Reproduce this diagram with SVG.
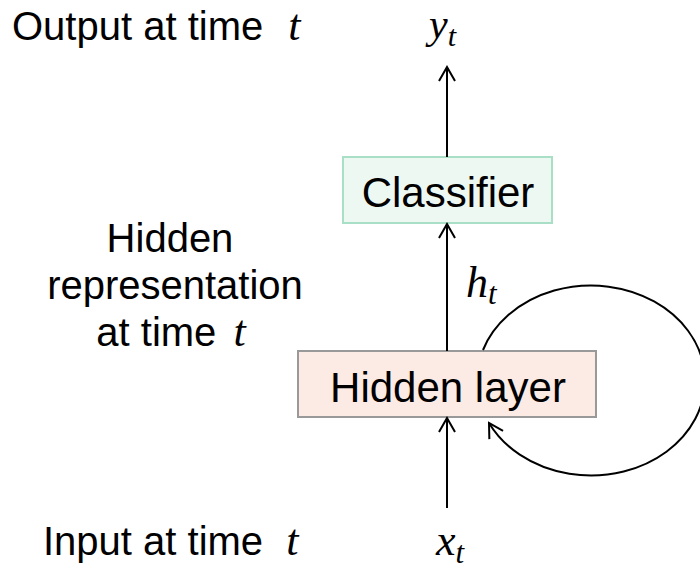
<svg xmlns="http://www.w3.org/2000/svg" width="700" height="571" viewBox="0 0 700 571">
  <style>
    .lbl { font-family: "Liberation Sans", Arial, sans-serif; font-size: 40px; fill: #000; }
    .box { font-family: "Liberation Sans", Arial, sans-serif; font-size: 42px; fill: #000; text-anchor: middle; }
    .m { font-family: "Liberation Serif", "Times New Roman", serif; font-style: italic; }
    .conn { fill: none; stroke: #000; stroke-width: 2; }
  </style>
  <defs>
    <marker id="arr" viewBox="0 0 20 20" refX="18" refY="10" markerWidth="20" markerHeight="20" markerUnits="userSpaceOnUse" orient="auto">
      <path d="M4,2 L18,10 L4,18" fill="none" stroke="#000" stroke-width="2"/>
    </marker>
  </defs>

  <rect width="700" height="571" fill="#fff"/>

  <g id="labels">
    <text class="lbl" x="12" y="40">Output at time <tspan class="m" font-size="44" dx="14">t</tspan></text>
    <text class="lbl" text-anchor="middle" x="170" y="252">Hidden</text>
    <text class="lbl" text-anchor="middle" x="175" y="299">representation</text>
    <text class="lbl" text-anchor="middle" x="171" y="346">at time <tspan class="m" font-size="44" dx="6">t</tspan></text>
    <text class="lbl" x="43" y="555">Input at time <tspan class="m" font-size="44" dx="12">t</tspan></text>
  </g>

  <g id="y_t">
    <text class="m" font-size="42" x="429" y="38">y<tspan font-size="30" dy="8">t</tspan></text>
  </g>
  <g id="h_t">
    <text class="m" font-size="44" x="466" y="297">h<tspan font-size="31" dy="7">t</tspan></text>
  </g>
  <g id="x_t">
    <text class="m" font-size="44" x="436" y="555">x<tspan font-size="31" dy="8">t</tspan></text>
  </g>

  <g id="classifier">
    <rect x="343" y="157" width="209" height="66" fill="#EEF8F2" stroke="#A9DFC7" stroke-width="2"/>
    <text class="box" x="448" y="207">Classifier</text>
  </g>

  <g id="hidden">
    <rect x="298" y="351" width="298" height="66" fill="#FCEBE5" stroke="#999" stroke-width="2"/>
    <text class="box" x="448" y="402">Hidden layer</text>
  </g>

  <g id="connectors">
    <line class="conn" x1="447" y1="508" x2="447" y2="418" marker-end="url(#arr)"/>
    <line class="conn" x1="447" y1="351" x2="447" y2="224" marker-end="url(#arr)"/>
    <line class="conn" x1="447" y1="157" x2="447" y2="67" marker-end="url(#arr)"/>
    <path class="conn" d="M483,350 A114 95 0 1 1 489,423" marker-end="url(#arr)"/>
  </g>
</svg>
